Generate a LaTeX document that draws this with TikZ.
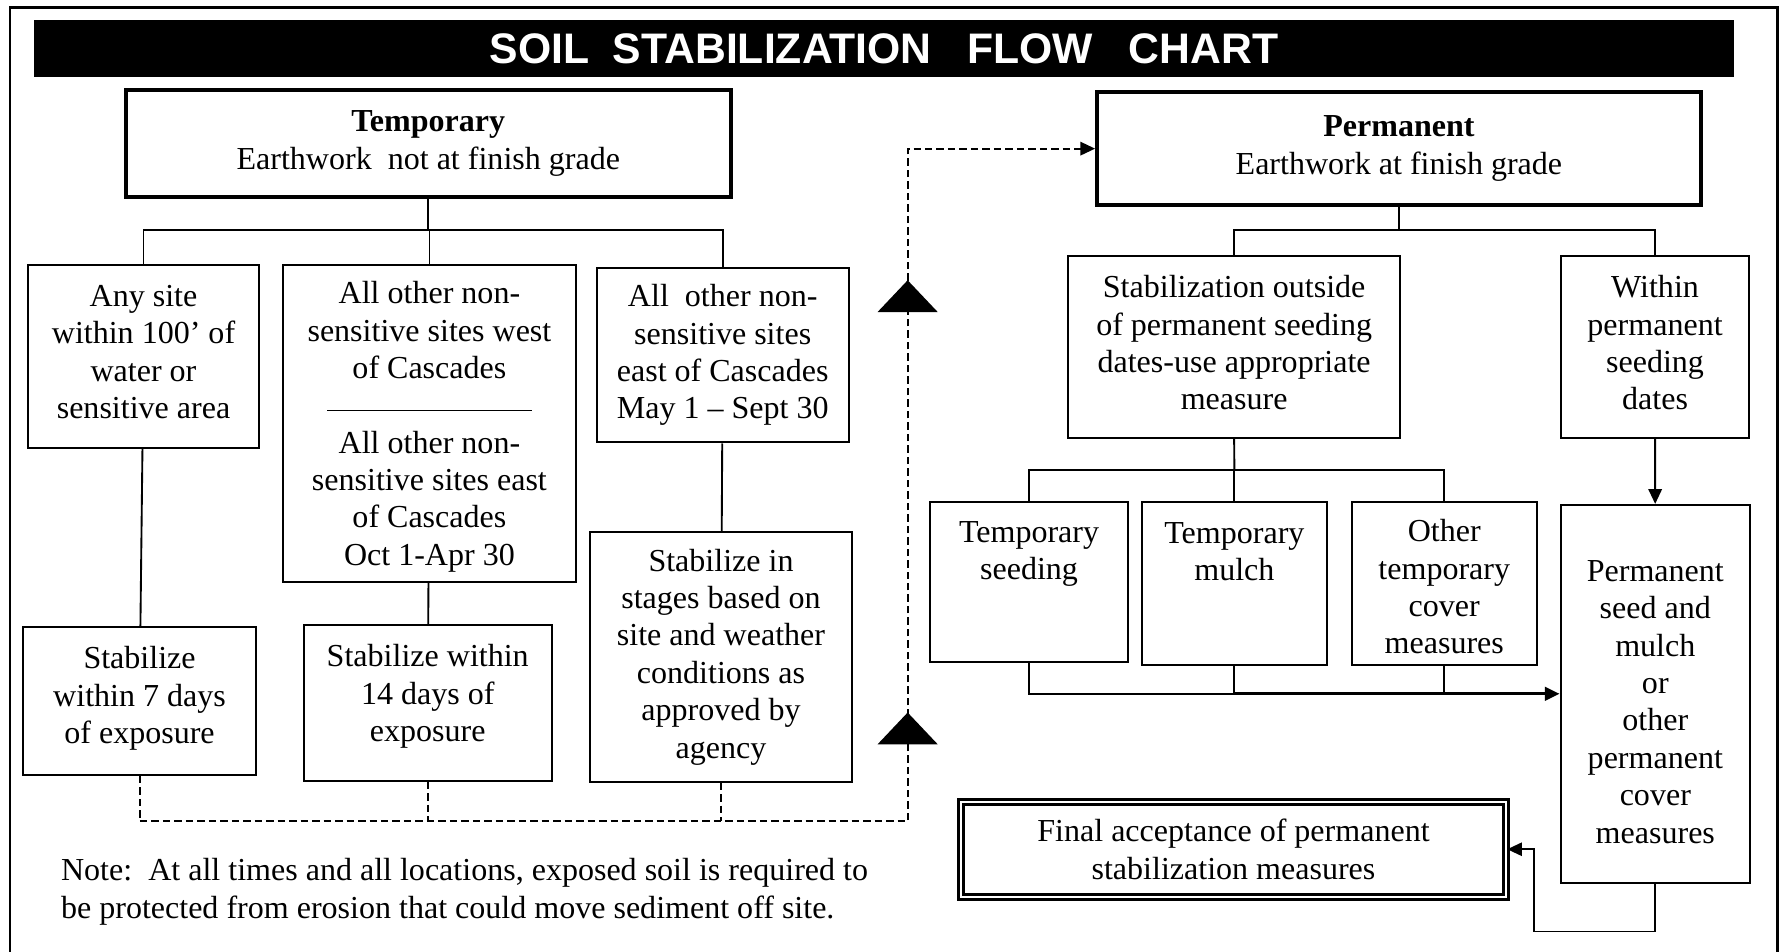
\documentclass[tikz,border=0pt]{standalone}
\usepackage{fontspec}
\setmainfont{Liberation Serif}
\newfontfamily\titlefont{Liberation Sans}
\usetikzlibrary{arrows.meta}

\tikzset{
  sz/.style 2 args={minimum width=#1*0.425pt, minimum height=#2*0.425pt},
  dsh/.style={dash pattern=on 2.8pt off 1.5pt, line width=0.75pt},
}

\begin{document}
\begin{tikzpicture}[x=0.425pt, y=-0.425pt, font=\fontsize{12}{14}\selectfont,
    line width=0.7pt, >={Triangle[length=5.5pt,width=5pt]}]

      \useasboundingbox (0,0) rectangle (1568,839);
      \draw[line width=1.1pt] (8.8,839) -- (8.8,6.5) -- (1566.5,6.5) -- (1566.5,839);

      \node[fill=black, text=white, sz={1498}{50}, inner sep=0pt,
        font=\titlefont\bfseries\fontsize{16}{18}\selectfont] (title) at (779,42.7)
        {SOIL\ \ STABILIZATION\ \ \ FLOW\ \ \ CHART};

      \begin{scope}[every node/.style={draw,line width=1.5pt,align=center,inner sep=0pt}]
        \node[sz={533}{95}]  (temp) at (377.5,126.5) {\textbf{Temporary}\\Earthwork\ \ not at finish grade};
        \node[sz={532}{100}] (perm) at (1233,131)    {\textbf{Permanent}\\Earthwork at finish grade};
      \end{scope}

      \begin{scope}[every node/.style={draw,line width=0.75pt,align=center,inner sep=0pt}]
        \node[sz={203}{161.5},text depth=3.4pt] (site) at (126.5,314.2) {Any site\\within 100’ of\\water or\\sensitive area};
        \node[sz={258}{279.5},text depth=0pt] (nonsens) at (378.5,373.2) {All other non-\\sensitive sites west\\of Cascades\\\rule[1.7pt]{76.7pt}{0.6pt}\\All other non-\\sensitive sites east\\of Cascades\\Oct 1-Apr 30};
        \node[sz={222}{154}]   (eastmay)  at (637,313)     {All\ \ other non-\\sensitive sites\\east of Cascades\\May 1 – Sept 30};
        \node[sz={205.4}{130},text depth=4.7pt] (seven) at (123,618) {Stabilize\\within 7 days\\of exposure};
        \node[sz={218.3}{137},text depth=7.3pt] (fourteen) at (377,619.5) {Stabilize within\\14 days of\\exposure};
        \node[sz={231}{220}]   (stages)   at (635.5,579)   {Stabilize in\\stages based on\\site and weather\\conditions as\\approved by\\agency};

        \node[sz={292.5}{160},text depth=3.4pt] (outside) at (1087.75,306) {Stabilization outside\\of permanent seeding\\dates-use appropriate\\measure};
        \node[sz={165.5}{160},text depth=3.4pt] (within)  at (1458.75,306) {Within\\permanent\\seeding\\dates};
        \node[sz={174}{141}]     (tseed)  at (907,513)    {\rule{0pt}{12.1pt}Temporary\\seeding\\~\\~};
        \node[sz={163}{143.4}]   (tmulch) at (1088,514.3) {\rule{0pt}{12.1pt}Temporary\\mulch\\~\\~};
        \node[sz={163.6}{143.4}] (tother) at (1273,514.3) {\rule{0pt}{10.9pt}Other\\temporary\\cover\\measures};
        \node[sz={167}{333}]     (pseed)  at (1459,611.5) {\rule{0pt}{13.9pt}Permanent\\seed and\\mulch\\or\\other\\permanent\\cover\\measures};
        \node[sz={480}{84},line width=1.1pt,double,double distance=0.75pt]
                               (final)    at (1087.2,748.5) {Final acceptance of permanent\\stabilization measures};
      \end{scope}

      \node[anchor=west,align=left,inner sep=0pt] (note) at (53,786)
        {Note:\ \ At all times and all locations, exposed soil is required to\\be protected from erosion that could move sediment off site.};

      \coordinate (tb) at (377.5,203);
      \coordinate (pb) at (1233,203);
      \coordinate (ob) at (1088,414);
      \coordinate (eb) at (1352,821);
      \coordinate (dl) at (800,724);
      \coordinate (dt) at (dl |- perm.west);

      \draw (temp.south) -- (tb);
      \draw (site.north) |- (tb) -| (eastmay.north);
      \draw (nonsens.north) -- (nonsens.north |- tb);
      \draw (site) -- (seven);
      \draw (nonsens) -- (fourteen);
      \draw (eastmay) -- (stages);

      \draw (perm.south) -- (pb);
      \draw (outside.north) |- (pb) -| (within.north);
      \draw (outside.south) -- (ob);
      \draw (tseed.north) |- (ob) -| (tother.north);
      \draw (tmulch.north) -- (ob);
      \draw[->] (within) -- (pseed);

      \draw (tseed.south) |- (tmulch.south |- pseed.west);
      \draw[->,line width=1.1pt] (tmulch.south |- pseed.west) -- (pseed.west);
      \draw (tmulch.south) -- (tmulch.south |- pseed.west);
      \draw (tother.south) -- (tother.south |- pseed.west);
      \draw[->] (pseed.south) |- (eb) |- (final.east);

      \draw[dsh,->] (seven.south) |- (dl) -- (dt) -- (perm.west);
      \draw[dsh] (fourteen.south) -- (fourteen.south |- dl);
      \draw[dsh] (stages.south) -- (stages.south |- dl);

      \fill (800,247) -- ++(-26.5,28) -- ++(53,0) -- cycle;
      \fill (800,628) -- ++(-26.5,28) -- ++(53,0) -- cycle;

    \end{tikzpicture}
\end{document}
